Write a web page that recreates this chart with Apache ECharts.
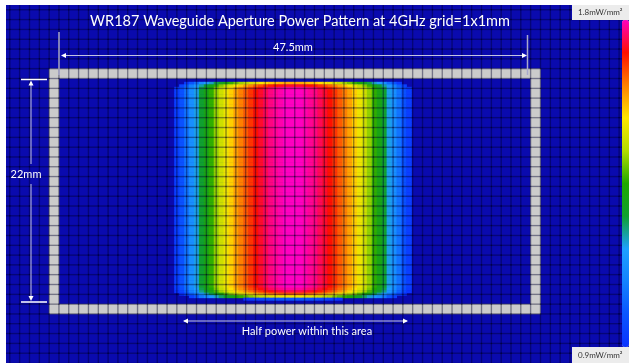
<!DOCTYPE html>
<html><head><meta charset="utf-8">
<script src="https://cdn.jsdelivr.net/npm/echarts@6/dist/echarts.min.js"></script>
<style>html,body{margin:0;padding:0;background:#fff}#c{width:629px;height:363px}</style>
</head><body><div id="c"></div>
<script>
// Power density (mW/mm^2) across the aperture width, 0.5 mm steps (96 columns)
const colValues = [
  0.01,0.03,0.05,0.08,0.11,0.15,0.19,0.24,0.29,0.34,0.39,0.44,0.49,0.54,0.58,0.62,0.66,0.70,0.73,0.76,0.79,0.82,0.85,0.88,
  0.93,0.98,1.05,1.12,1.18,1.26,1.31,1.36,1.42,1.47,1.51,1.55,1.59,1.62,1.65,1.68,1.71,1.73,1.75,1.77,1.78,1.79,1.80,1.80,
  1.80,1.80,1.79,1.78,1.77,1.75,1.73,1.71,1.68,1.65,1.62,1.59,1.55,1.51,1.47,1.42,1.36,1.31,1.26,1.18,1.12,1.05,0.98,0.93,
  0.88,0.85,0.82,0.79,0.76,0.73,0.70,0.66,0.62,0.58,0.54,0.49,0.44,0.39,0.34,0.29,0.24,0.19,0.15,0.11,0.08,0.05,0.03,0.01
];
// Relative fall-off across the aperture height, 0.25 mm steps (92 rows)
const rowFactors = [
  0.20,0.45,0.88,0.96,0.99,
  1,1,1,1,1,1,1,1,1,1,1,1,1,1,1,1,1,1,1,1,1,1,1,1,1,1,1,1,1,1,1,1,1,1,1,1,1,1,1,1,
  1,1,1,1,1,1,1,1,1,1,1,1,1,1,1,1,1,1,1,1,1,1,1,1,1,1,1,1,1,1,1,1,1,1,1,1,1,1,1,
  0.99,0.97,0.92,0.84,0.55,0.35,0.20,0.10
];
const scaleLabels = ['1.8mW/mm\u00B2', '0.9mW/mm\u00B2'];
const scaleMin = 0.9, scaleMax = 1.8;
const titleText = 'WR187 Waveguide Aperture Power Pattern at 4GHz grid=1x1mm';
const widthLabel = '47.5mm';
const heightLabel = '22mm';
const halfPowerLabel = 'Half power within this area';

const NX = 64, NY = 37;                 // 1 mm grid cells covering the picture
const FRAME = {c0: 5, c1: 54, r0: 7, r1: 31};
const BG = '#0a0aae';

const range = n => Array.from({length: n}, (_, i) => i);
// cells below the scale minimum are left undrawn (background colour shows)
const fineData = [];
for (let r = 0; r < rowFactors.length; r++)
  for (let c = 0; c < colValues.length; c++) {
    const v = +(colValues[c] * rowFactors[r]).toFixed(3);
    if (v >= scaleMin) fineData.push([c, r, v]);
  }
const frameData = [], gridData = [];
for (let r = 0; r < NY; r++) for (let c = 0; c < NX; c++) {
  gridData.push([c, r, 0]);
  if (r >= FRAME.r0 && r <= FRAME.r1 && c >= FRAME.c0 && c <= FRAME.c1 &&
      (r === FRAME.r0 || r === FRAME.r1 || c === FRAME.c0 || c === FRAME.c1))
    frameData.push([c, r, 1]);
}

const cw = 9.88, ch = 10.04, gx = -3.4, gy = -3.28;
const chart = echarts.init(document.getElementById('c'), null, {renderer: 'canvas'});
const lineCol = '#c4c4e0';
const arrow = (pts) => ({type: 'polygon', z: 100, shape: {points: pts}, style: {fill: '#ffffff'}});
const line = (x1, y1, x2, y2, stroke, w) => ({type: 'line', z: 100, shape: {x1, y1, x2, y2}, style: {stroke, lineWidth: w}});
const txt = (x, y, t, size, fill, align) => ({type: 'text', z: 101, x, y,
  style: {text: t, fill, font: size + 'px Lato', textAlign: align || 'center', textVerticalAlign: 'middle'}});

chart.setOption({
  animation: false,
  backgroundColor: '#ffffff',
  grid: [
    {left: gx, top: gy, width: NX * cw, height: NY * ch, show: true, backgroundColor: BG, borderWidth: 0},
    {left: gx + (FRAME.c0 + 1) * cw, top: gy + (FRAME.r0 + 1) * ch,
     width: (FRAME.c1 - FRAME.c0 - 1) * cw, height: (FRAME.r1 - FRAME.r0 - 1) * ch, show: false}
  ],
  xAxis: [
    {type: 'category', gridIndex: 0, data: range(NX), show: false},
    {type: 'category', gridIndex: 1, data: range(colValues.length), show: false}
  ],
  yAxis: [
    {type: 'category', gridIndex: 0, data: range(NY), inverse: true, show: false},
    {type: 'category', gridIndex: 1, data: range(rowFactors.length), inverse: true, show: false}
  ],
  visualMap: {
    type: 'continuous', seriesIndex: 0, min: scaleMin, max: scaleMax,
    calculable: false, hoverLink: false, right: 0, top: 20, padding: 0,
    itemWidth: 7, itemHeight: 327,
    inRange: {color: ['#0a32ff','#0a55ff','#1482ff','#1ea0ff','#10a030','#20a800',
                      '#b4dc00','#ffe600','#ff8000','#ff1000','#ff00c0']}
  },
  series: [
    {type: 'heatmap', xAxisIndex: 1, yAxisIndex: 1, data: fineData, progressive: 0,
     silent: true, emphasis: {disabled: true}},
    {type: 'heatmap', xAxisIndex: 0, yAxisIndex: 0, data: frameData, progressive: 0,
     silent: true, emphasis: {disabled: true}, itemStyle: {color: '#cbcbcb'}},
    {type: 'heatmap', xAxisIndex: 0, yAxisIndex: 0, data: gridData, progressive: 0,
     silent: true, emphasis: {disabled: true},
     itemStyle: {color: 'rgba(0,0,0,0)', borderColor: 'rgba(0,0,40,0.38)', borderWidth: 0.8}}
  ],
  graphic: [
    {type: 'rect', z: 100, shape: {x: 0, y: 0, width: 629, height: 5}, style: {fill: '#fff'}},
    {type: 'rect', z: 100, shape: {x: 0, y: 0, width: 6, height: 363}, style: {fill: '#fff'}},
    {type: 'rect', z: 100, shape: {x: 572, y: 5, width: 57, height: 15}, style: {fill: '#ececec'}},
    {type: 'rect', z: 100, shape: {x: 572, y: 347, width: 57, height: 16}, style: {fill: '#ececec'}},
    txt(578, 12.5, scaleLabels[0], 8, '#333', 'left'),
    txt(578, 355, scaleLabels[1], 8, '#333', 'left'),
    txt(300, 21, titleText, 14.5, '#ffffff'),
    // width dimension
    line(59, 32, 59, 75, '#a8a8cc', 1.5),
    line(527.5, 35, 527.5, 75, '#a8a8cc', 1.5),
    line(62, 55.5, 526, 55.5, lineCol, 1),
    arrow([[61, 55.5], [66, 53], [66, 58]]),
    arrow([[527, 55.5], [522, 53], [522, 58]]),
    txt(293, 47, widthLabel, 11, '#ffffff'),
    // height dimension
    line(21, 79.5, 47, 79.5, '#ffffff', 1.5),
    line(21, 302, 47, 302, '#ffffff', 1.5),
    line(31, 82, 31, 164, lineCol, 1),
    line(31, 184, 31, 299, lineCol, 1),
    arrow([[31, 80.5], [28.5, 85.5], [33.5, 85.5]]),
    arrow([[31, 301], [28.5, 296], [33.5, 296]]),
    txt(26, 174, heightLabel, 11, '#ffffff'),
    // half power
    line(184, 321, 407, 321, lineCol, 1),
    arrow([[183, 321], [188, 318.5], [188, 323.5]]),
    arrow([[408, 321], [403, 318.5], [403, 323.5]]),
    txt(307, 331, halfPowerLabel, 11, '#ffffff')
  ]
});
</script></body></html>
